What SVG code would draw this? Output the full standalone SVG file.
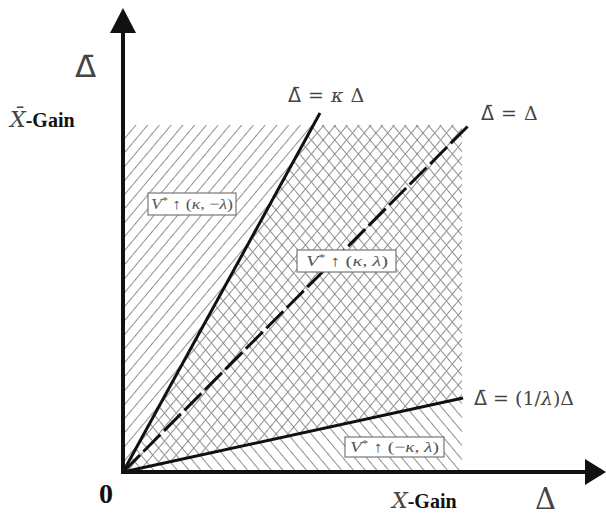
<svg xmlns="http://www.w3.org/2000/svg" width="606" height="516" viewBox="0 0 606 516">
<style>
.lbl{font-family:"DejaVu Serif","Liberation Serif",serif;fill:#444}
.d{font-family:"DejaVu Sans","Noto Sans",sans-serif}
.bold{font-family:"Liberation Serif","DejaVu Serif",serif;font-weight:bold;fill:#111}
.box{fill:#fff;stroke:#777;stroke-width:1.2}
.btxt{font-family:"Liberation Serif","DejaVu Serif",serif;font-size:15px;fill:#555}
.it{font-style:italic}
.ray{stroke:#111;stroke-width:3;fill:none}
</style>
<defs>
<pattern id="hf" patternUnits="userSpaceOnUse" width="9" height="9" patternTransform="rotate(40)">
<line x1="4.5" y1="0" x2="4.5" y2="9" stroke="#909090" stroke-width="1"/>
</pattern>
<pattern id="hb" patternUnits="userSpaceOnUse" width="9" height="9" patternTransform="rotate(-40)">
<line x1="4.5" y1="0" x2="4.5" y2="9" stroke="#909090" stroke-width="1"/>
</pattern>
</defs>
<rect width="606" height="516" fill="#fff"/>
<g id="hatching">
<polygon points="123,472 123,125 462,125 462,398" fill="url(#hf)"/>
<polygon points="123,472 313,125 462,125 462,470" fill="url(#hb)"/>
</g>
<g id="connectors">
<line class="ray" x1="123" y1="472" x2="320" y2="113"/>
<line class="ray" x1="123" y1="472" x2="470" y2="124" stroke-dasharray="24 5"/>
<line class="ray" x1="123" y1="472" x2="463" y2="398"/>
</g>
<g id="axes">
<line x1="123" y1="474" x2="123" y2="30" stroke="#111" stroke-width="4"/>
<polygon points="123,8 110,33 136,33" fill="#111"/>
<line x1="121" y1="472" x2="588" y2="472" stroke="#111" stroke-width="4"/>
<polygon points="606,472 585,459 585,485" fill="#111"/>
</g>
<g id="axis-labels">
<text class="lbl d" x="75" y="77" font-size="31">Δ̄</text>
<text x="10" y="127" font-size="20"><tspan class="lbl it" font-size="22">X̄</tspan><tspan class="bold">-Gain</tspan></text>
<text class="bold" x="99" y="503" font-size="28">0</text>
<text x="392" y="508" font-size="20"><tspan class="lbl it" font-size="22">X</tspan><tspan class="bold">-Gain</tspan></text>
<text class="lbl" x="535" y="509" font-size="29">Δ</text>
</g>
<g id="line-labels">
<text class="lbl" x="288" y="102" font-size="19" word-spacing="1"><tspan class="d">Δ̄</tspan> = <tspan class="it">κ</tspan> Δ</text>
<text class="lbl" x="481" y="120" font-size="19" word-spacing="1"><tspan class="d">Δ̄</tspan> = Δ</text>
<text class="lbl" x="474" y="405" font-size="19"><tspan class="d">Δ̄</tspan> = (1/<tspan class="it">λ</tspan>)Δ</text>
</g>
<g id="region-kappa-minus-lambda">
<rect class="box" x="148" y="193" width="88" height="22"/>
<text class="btxt" x="151" y="209" textLength="82" lengthAdjust="spacingAndGlyphs"><tspan class="it">V</tspan><tspan dy="-5" font-size="10">*</tspan><tspan dy="5"> ↑ (</tspan><tspan class="it">κ</tspan>, −<tspan class="it">λ</tspan>)</text>
</g>
<g id="region-kappa-lambda">
<rect class="box" x="297" y="250" width="99" height="22"/>
<text class="btxt" x="306" y="266" textLength="82" lengthAdjust="spacingAndGlyphs"><tspan class="it">V</tspan><tspan dy="-5" font-size="10">*</tspan><tspan dy="5"> ↑ (</tspan><tspan class="it">κ</tspan>, <tspan class="it">λ</tspan>)</text>
</g>
<g id="region-minus-kappa-lambda">
<rect class="box" x="345" y="437" width="99" height="20"/>
<text class="btxt" x="350" y="452" textLength="89" lengthAdjust="spacingAndGlyphs"><tspan class="it">V</tspan><tspan dy="-5" font-size="10">*</tspan><tspan dy="5"> ↑ (−</tspan><tspan class="it">κ</tspan>, <tspan class="it">λ</tspan>)</text>
</g>
</svg>
